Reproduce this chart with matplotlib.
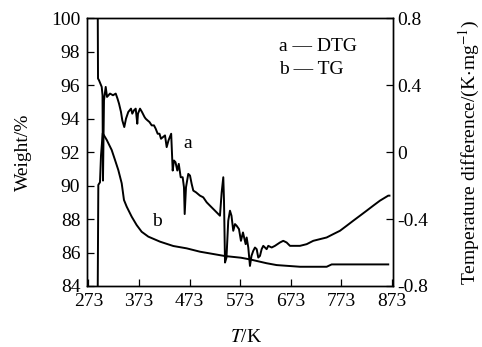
import matplotlib
matplotlib.use('Agg')
import matplotlib.pyplot as plt

plt.rcParams['font.family'] = ['Liberation Serif', 'DejaVu Serif']
plt.rcParams['mathtext.fontset'] = 'stix'
plt.rcParams['axes.unicode_minus'] = False

# DTG curve (a), right axis, temperature difference / (K mg^-1)
dtg_T = [291.3, 292.0, 293.9, 299.3, 300.9, 301.8, 303.8, 307.2, 309.8, 315.7,
         321.6, 327.0, 330.5, 333.5, 337.4, 340.0, 343.9, 347.3, 351.8, 357.2,
         359.7, 363.1, 366.5, 369.6, 371.0, 375.0, 378.9, 383.9, 386.2, 389.8,
         393.7, 398.1, 402.6, 406.0, 409.9, 413.5, 416.5, 420.4, 424.4, 427.7,
         431.3, 436.6, 439.6, 442.1, 445.1, 448.7, 451.6, 455.4, 459.3, 461.9,
         463.3, 465.9, 470.4, 473.8, 477.1, 480.3, 485.6, 493.5, 500.0, 506.8,
         513.3, 523.2, 533.0, 536.4, 539.6, 541.0, 543.0, 545.9, 549.4, 552.8,
         555.8, 559.3, 562.7, 566.0, 570.6, 574.5, 578.5, 583.8, 585.8, 589.0,
         592.3, 595.3, 598.8, 602.2, 605.6, 608.7, 612.1, 615.4, 618.6, 622.0,
         625.3, 628.5, 635.2, 641.7, 651.6, 658.1, 664.8, 671.4, 677.9, 691.1,
         704.4, 717.4, 730.6, 743.9, 756.9, 770.2, 783.4, 796.4, 809.7, 822.9,
         835.9, 849.2, 865.6, 868.0]
dtg_val = [0.95, 0.44, 0.43, 0.39, 0.34, -0.17, 0.31, 0.39, 0.33, 0.35,
           0.34, 0.35, 0.32, 0.29, 0.24, 0.19, 0.15, 0.20, 0.24, 0.26,
           0.23, 0.25, 0.26, 0.17, 0.23, 0.26, 0.24, 0.21, 0.20, 0.19,
           0.18, 0.16, 0.16, 0.14, 0.11, 0.11, 0.08, 0.09, 0.10, 0.03,
           0.07, 0.11, -0.11, -0.05, -0.06, -0.11, -0.07, -0.15, -0.15, -0.21,
           -0.37, -0.21, -0.13, -0.14, -0.19, -0.23, -0.24, -0.26, -0.27, -0.30,
           -0.32, -0.35, -0.38, -0.24, -0.15, -0.29, -0.66, -0.63, -0.41, -0.35,
           -0.38, -0.47, -0.43, -0.44, -0.46, -0.53, -0.48, -0.55, -0.51, -0.57,
           -0.68, -0.62, -0.59, -0.57, -0.58, -0.63, -0.62, -0.58, -0.56, -0.57,
           -0.58, -0.56, -0.57, -0.56, -0.54, -0.53, -0.54, -0.56, -0.56, -0.56,
           -0.55, -0.53, -0.52, -0.51, -0.49, -0.47, -0.44, -0.41, -0.38, -0.35,
           -0.32, -0.29, -0.26, -0.26]

# TG curve (b), left axis, weight / %
tg_T = [291.4, 292.6, 295.9, 297.9, 301.3, 309.2, 319.0, 325.6, 332.1, 338.8,
        343.3, 348.7, 358.6, 368.4, 378.3, 391.4, 414.5, 440.8, 467.2, 493.5,
        542.9, 574.5, 592.3, 625.3, 645.1, 691.1, 743.9, 753.8, 865.6]
tg_val = [83.7, 90.04, 90.2, 91.8, 93.13, 92.73, 92.13, 91.53, 90.93, 90.14,
          89.14, 88.74, 88.14, 87.64, 87.24, 86.95, 86.65, 86.39, 86.25, 86.05,
          85.79, 85.69, 85.59, 85.36, 85.25, 85.15, 85.15, 85.29, 85.29]

x_ticks = [273, 373, 473, 573, 673, 773, 873]
left_ticks = [84, 86, 88, 90, 92, 94, 96, 98, 100]
right_ticks = [-0.8, -0.4, 0, 0.4, 0.8]
right_labels = ['-0.8', '-0.4', '0', '0.4', '0.8']

fig = plt.figure(figsize=(4.82, 3.47), dpi=100)
ax = fig.add_axes([0.1811, 0.1758, 0.6336, 0.7715])
ax2 = ax.twinx()

ax.plot(tg_T, tg_val, color='black', lw=1.4)
ax2.plot(dtg_T, dtg_val, color='black', lw=1.4)

ax.set_xlim(270.8, 874.4)
ax.set_ylim(84, 100)
ax2.set_ylim(-0.8, 0.8)

ax.set_xticks(x_ticks)
ax.set_yticks(left_ticks)
ax2.set_yticks(right_ticks)
ax2.set_yticklabels(right_labels)

ax.tick_params(axis='both', direction='in', length=5, width=0.9, labelsize=14)
ax.tick_params(axis='x', pad=5)
ax.tick_params(axis='y', pad=5)
ax2.tick_params(axis='y', direction='in', length=5, width=0.9, labelsize=14, pad=3)

for a in (ax, ax2):
    for s in a.spines.values():
        s.set_linewidth(1.0)

ax.set_xlabel('$\\it{T}$/K', fontsize=14)
ax.xaxis.set_label_coords(0.52, -0.16)
ax.set_ylabel('Weight/%', fontsize=14, labelpad=14)
ax2.set_ylabel('Temperature difference/(K$\\cdot$mg$^{-1}$)', fontsize=14, labelpad=21)

# curve labels and legend text
ax.text(470, 92.5, 'a', fontsize=14, ha='center', va='center')
ax.text(408, 87.85, 'b', fontsize=14, ha='center', va='center')
ax.text(0.628, 0.894, 'a — DTG', transform=ax.transAxes, fontsize=14, va='center')
ax.text(0.628, 0.807, 'b — TG', transform=ax.transAxes, fontsize=14, va='center')

fig.savefig('out.png', dpi=100)
